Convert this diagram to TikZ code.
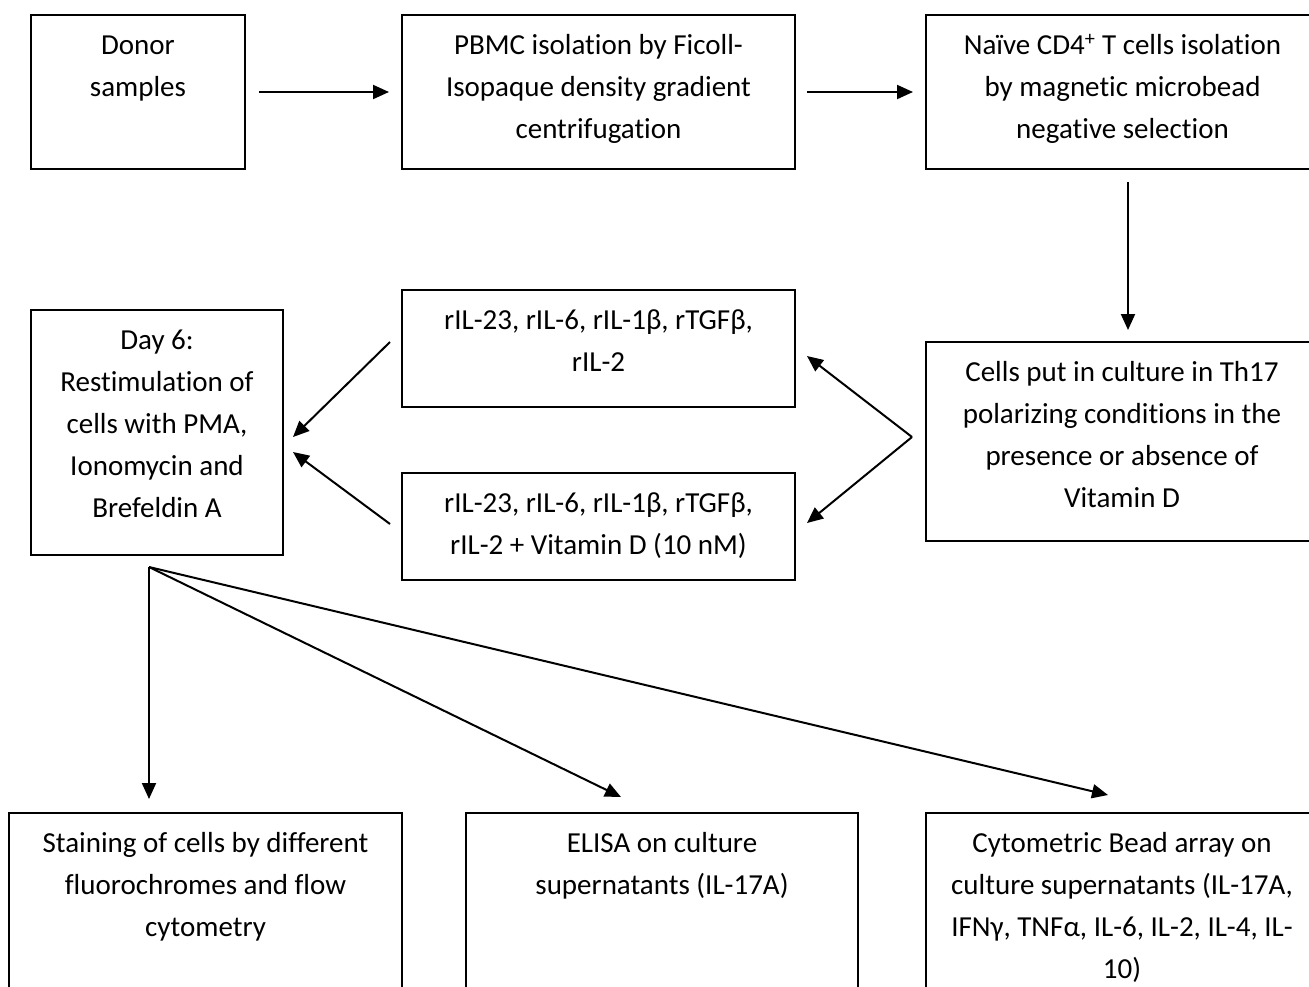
\documentclass[tikz,border=0pt]{standalone}
\usepackage{fontspec}
\setmainfont{Carlito}[RawFeature={-liga}]
\usetikzlibrary{arrows.meta}
\tikzset{
  box/.style={draw, line width=2pt, rectangle, inner sep=0pt, anchor=north west},
  arr/.style={line width=2pt, -{Triangle[length=16pt,width=14pt]}},
}
\newcommand\mybox[6]{%
  \node[box, minimum width=#4pt, minimum height=#5pt] (#1) at (#2,#3)
    {\parbox[c][#5pt][t]{#4pt}{\centering\vspace*{10pt}\strut #6}};}
\begin{document}
\begin{tikzpicture}[x=1pt, y=-1pt, font=\fontsize{29pt}{42pt}\selectfont]
\useasboundingbox (0,0) rectangle (1309,986);
\clip (0,0) rectangle (1309,986);
\fill[white] (0,0) rectangle (1309,986);

\mybox{donor}{30}{14}{214}{154}{Donor\\samples}
\mybox{pbmc}{401}{14}{393}{154}{PBMC isolation by Ficoll-\\Isopaque density gradient\\centrifugation}
\mybox{naive}{925}{14}{393}{154}{Naïve CD4\textsuperscript{+} T cells isolation\\by magnetic microbead\\negative selection}
\mybox{day}{30}{309}{252}{245}{Day 6:\\Restimulation of\\cells with PMA,\\Ionomycin and\\Brefeldin A}
\mybox{rila}{401}{289}{393}{117}{rIL-23, rIL-6, rIL-1β, rTGFβ,\\rIL-2}
\mybox{rilb}{401}{472}{393}{107}{rIL-23, rIL-6, rIL-1β, rTGFβ,\\rIL-2 + Vitamin D (10 nM)}
\mybox{cells}{925}{341}{392}{199}{Cells put in culture in Th17\\polarizing conditions in the\\presence or absence of\\Vitamin D}
\mybox{stain}{8}{812}{393}{200}{Staining of cells by different\\fluorochromes and flow\\cytometry}
\mybox{elisa}{465}{812}{392}{200}{ELISA on culture\\supernatants (IL-17A)}
\mybox{cba}{925}{812}{392}{200}{Cytometric Bead array on\\culture supernatants (IL-17A,\\IFNγ, TNFα, IL-6, IL-2, IL-4, IL-\\10)}

% named free ends
\coordinate (split) at (912,437);
\coordinate (rilaR) at (807,356);
\coordinate (rilbR) at (807,523);
\coordinate (rilaL) at (390,342);
\coordinate (rilbL) at (390,524);
\coordinate (dayA) at (293,437);
\coordinate (dayB) at (293,452);
\coordinate (fan) at (149,567);
\coordinate (stainT) at (149,799);
\coordinate (elisaT) at (621,797);
\coordinate (cbaT) at (1108,795);
\coordinate (naiveB) at (1128,182);
\coordinate (cellsT) at (1128,330);

\draw[arr, shorten <=13pt, shorten >=12pt] (donor.east) -- (pbmc.west);
\draw[arr, shorten <=11pt, shorten >=12pt] (pbmc.east) -- (naive.west);
\draw[arr] (naiveB) -- (cellsT);
\draw[arr] (split) -- (rilaR);
\draw[arr] (split) -- (rilbR);
\draw[arr] (rilaL) -- (dayA);
\draw[arr] (rilbL) -- (dayB);
\draw[arr] (fan) -- (stainT);
\draw[arr] (fan) -- (elisaT);
\draw[arr] (fan) -- (cbaT);
\end{tikzpicture}
\end{document}
